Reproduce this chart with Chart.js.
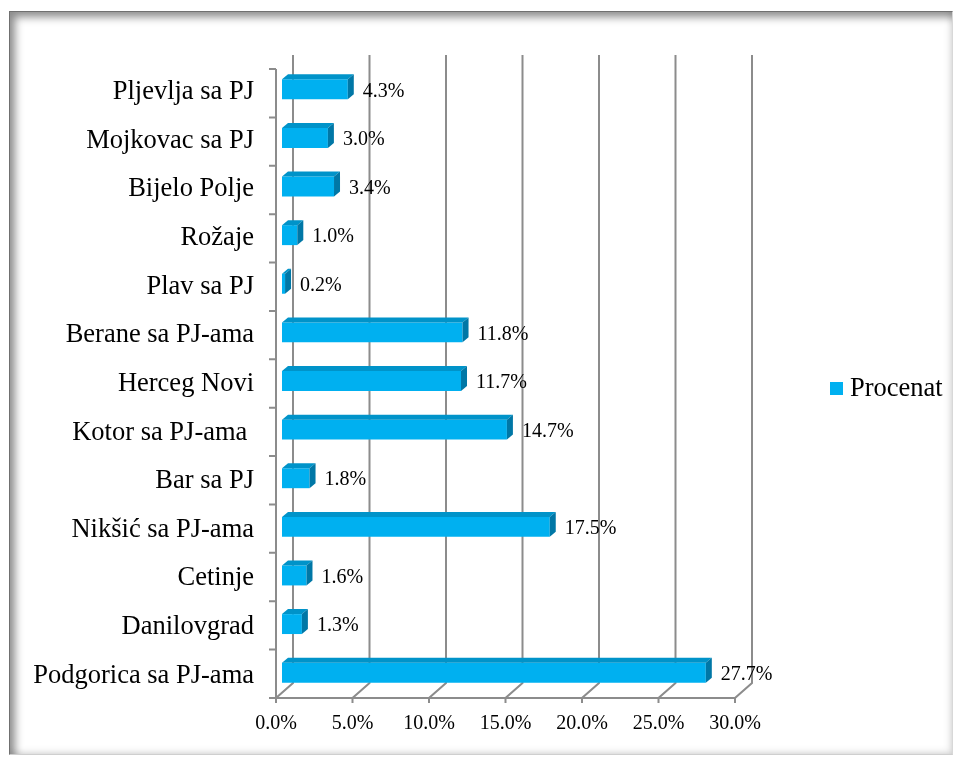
<!DOCTYPE html>
<html>
<head>
<meta charset="utf-8">
<script src="https://cdn.jsdelivr.net/npm/chart.js@4/dist/chart.umd.min.js"></script>
<style>
  html, body { margin: 0; padding: 0; background: #ffffff; }
  #wrap { position: relative; width: 958px; height: 757px; overflow: hidden; background: #fff; }
  #c { position: absolute; left: 0; top: 0; }
  #frame {
    position: absolute; left: 9px; top: 11px; width: 942px; height: 742px;
    border-top: 1px solid #707070; border-left: 1px solid #707070;
    border-right: 1px solid #d8d8d8; border-bottom: 1px solid #cfcfcf;
    box-shadow: inset 5px 5px 8px rgba(0,0,0,0.45), inset -3px -3px 6px rgba(0,0,0,0.10);
    pointer-events: none;
  }
</style>
</head>
<body>
<div id="wrap">
  <canvas id="c" width="958" height="757"></canvas>
  <div id="frame"></div>
</div>
<script>
const categories = ['Pljevlja sa PJ', 'Mojkovac sa PJ', 'Bijelo Polje', 'Rožaje', 'Plav sa PJ',
  'Berane sa PJ-ama', 'Herceg Novi', 'Kotor sa PJ-ama ', 'Bar sa PJ', 'Nikšić sa PJ-ama',
  'Cetinje', 'Danilovgrad', 'Podgorica sa PJ-ama'];
const procenat = [4.3, 3.0, 3.4, 1.0, 0.2, 11.8, 11.7, 14.7, 1.8, 17.5, 1.6, 1.3, 27.7];
const seriesName = 'Procenat';
const xMin = 0, xMax = 30, xStep = 5;

const FONT = '"Liberation Serif", "Times New Roman", serif';
const GRID = '#8c8c8c';

const wallPlugin = {
  id: 'wall3d',
  beforeDatasetsDraw(chart) {
    const { ctx, scales: { x, y } } = chart;
    const frontTop = y.top + 4, frontBottom = y.bottom + 1;
    const backTop = y.top - 10, backBottom = y.bottom - 14;
    ctx.save();
    ctx.strokeStyle = GRID;
    ctx.lineWidth = 2;
    x.ticks.forEach(t => {
      const p = x.getPixelForValue(t.value);
      const bx = p + 11, fx = p - 6;
      ctx.beginPath();
      ctx.moveTo(bx, backTop);
      ctx.lineTo(bx, backBottom);
      ctx.lineTo(fx, frontBottom);
      ctx.lineTo(fx, frontBottom + 5);
      ctx.stroke();
    });
    const f0 = x.getPixelForValue(xMin) - 6, f1 = x.getPixelForValue(xMax) - 6;
    ctx.beginPath();
    ctx.moveTo(f0, frontBottom);
    ctx.lineTo(f1, frontBottom);
    ctx.moveTo(f0, frontTop);
    ctx.lineTo(f0, frontBottom);
    const n = categories.length;
    for (let k = 0; k <= n; k++) {
      const yy = frontTop + k * (frontBottom - frontTop) / n;
      ctx.moveTo(f0 - 7, yy);
      ctx.lineTo(f0, yy);
    }
    ctx.stroke();
    ctx.restore();
  },
  afterDatasetsDraw(chart) {
    const { ctx } = chart;
    const meta = chart.getDatasetMeta(0);
    const dx = 6, dy = 5;
    ctx.save();
    meta.data.forEach((bar, i) => {
      const x0 = bar.base, x1 = bar.x;
      const h = bar.height;
      const y0 = bar.y - h / 2, y1 = bar.y + h / 2;
      ctx.fillStyle = '#0093c9';
      ctx.beginPath();
      ctx.moveTo(x0, y0);
      ctx.lineTo(x0 + dx, y0 - dy);
      ctx.lineTo(x1 + dx, y0 - dy);
      ctx.lineTo(x1, y0);
      ctx.closePath();
      ctx.fill();
      ctx.fillStyle = '#0077a6';
      ctx.beginPath();
      ctx.moveTo(x1, y0);
      ctx.lineTo(x1 + dx, y0 - dy);
      ctx.lineTo(x1 + dx, y1 - dy);
      ctx.lineTo(x1, y1);
      ctx.closePath();
      ctx.fill();
      ctx.fillStyle = '#000';
      ctx.font = '20px ' + FONT;
      ctx.textAlign = 'left';
      ctx.textBaseline = 'middle';
      ctx.fillText(procenat[i].toFixed(1) + '%', x1 + 15, bar.y + 2);
    });
    ctx.fillStyle = '#00B0F0';
    ctx.fillRect(830, 382, 13, 13);
    ctx.fillStyle = '#000';
    ctx.font = '26.5px ' + FONT;
    ctx.textAlign = 'left';
    ctx.textBaseline = 'middle';
    ctx.fillText(seriesName, 850, 389);
    ctx.restore();
  }
};

new Chart(document.getElementById('c'), {
  type: 'bar',
  data: {
    labels: categories,
    datasets: [{
      label: seriesName,
      data: procenat,
      backgroundColor: '#00B0F0',
      borderWidth: 0,
      barPercentage: 0.41,
      categoryPercentage: 1.0
    }]
  },
  options: {
    indexAxis: 'y',
    responsive: false,
    animation: false,
    devicePixelRatio: 1,
    layout: { padding: { left: 0, right: 217, top: 65, bottom: 20 } },
    plugins: {
      legend: { display: false },
      tooltip: { enabled: false }
    },
    scales: {
      x: {
        type: 'linear',
        min: xMin, max: xMax,
        grid: { display: false, drawTicks: false },
        border: { display: false },
        afterFit(s) { s.height = 40; },
        ticks: {
          stepSize: xStep,
          padding: 15,
          labelOffset: -6,
          color: '#000',
          font: { family: FONT, size: 20 },
          callback: v => Number(v).toFixed(1) + '%'
        }
      },
      y: {
        grid: { display: false, drawTicks: false },
        border: { display: false },
        afterFit(s) { s.width = 282; },
        ticks: {
          padding: 28,
          labelOffset: 3,
          color: '#000',
          font: { family: FONT, size: 26.5 },
          autoSkip: false
        }
      }
    }
  },
  plugins: [wallPlugin]
});
</script>
</body>
</html>
